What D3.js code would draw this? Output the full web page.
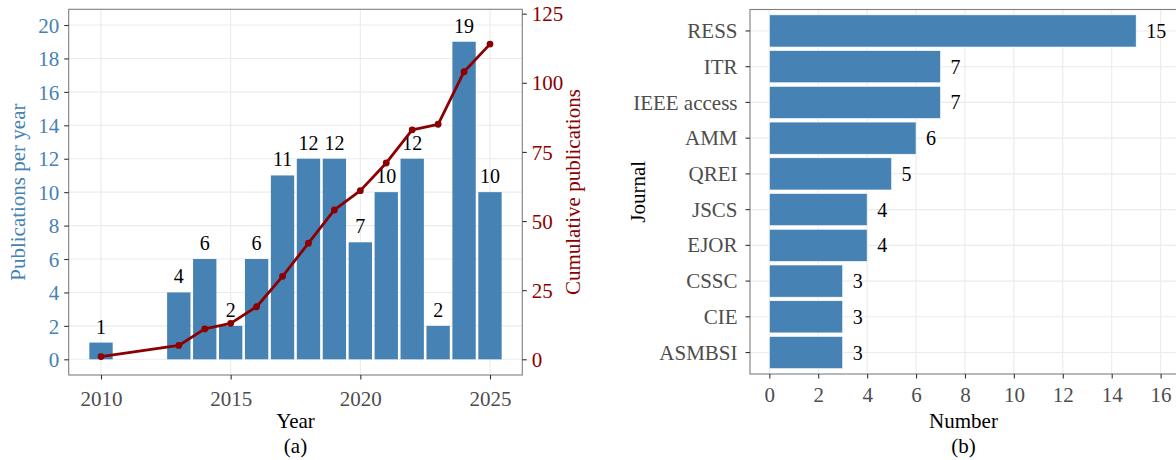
<!DOCTYPE html>
<html>
<head>
<meta charset="utf-8">
<script src="https://cdn.jsdelivr.net/npm/d3@7"></script>
<style>
  html, body { margin: 0; padding: 0; background: #fff; }
  svg { display: block; }
  text { font-family: "Liberation Serif", "Times New Roman", serif; }
</style>
</head>
<body>
<svg id="chart" width="1176" height="460"></svg>
<script>
// ---- Data (panel a) ----
const years = [2010, 2013, 2014, 2015, 2016, 2017, 2018, 2019, 2020, 2021, 2022, 2023, 2024, 2025];
const perYear = [1, 4, 6, 2, 6, 11, 12, 12, 7, 10, 12, 2, 19, 10];
const cumulative = [1, 5, 11, 13, 19, 30, 42, 54, 61, 71, 83, 85, 104, 114];
const yearTicks = [2010, 2015, 2020, 2025];
const leftTicks = [0, 2, 4, 6, 8, 10, 12, 14, 16, 18, 20];
const rightTicks = [0, 25, 50, 75, 100, 125];

// ---- Data (panel b) ----
const journals = ["RESS", "ITR", "IEEE access", "AMM", "QREI", "JSCS", "EJOR", "CSSC", "CIE", "ASMBSI"];
const journalCounts = [15, 7, 7, 6, 5, 4, 4, 3, 3, 3];
const numberTicks = [0, 2, 4, 6, 8, 10, 12, 14, 16];

const BLUE = "#4682B4", RED = "#8B0000", GRID = "#EBEBEB", BORDER = "#7F7F7F", TICKTXT = "#4D4D4D";
const FS = 21;

const svg = d3.select("#chart");
svg.append("rect").attr("width", 1176).attr("height", 460).attr("fill", "#fff");

// ================= Panel (a) =================
const A = { x0: 68.7, x1: 522.3, y0: 9.3, y1: 375 };
const xA = d3.scaleLinear().domain([2008.754, 2026.246]).range([A.x0, A.x1]);
const yL = d3.scaleLinear().domain([-0.939, 20.94]).range([A.y1, A.y0]);
const yR = d3.scaleLinear().domain([-5.68, 126.58]).range([A.y1, A.y0]);
const bw = (xA(2011) - xA(2010)) * 0.9;

const gA = svg.append("g");
// grid
gA.append("g").selectAll("line").data(leftTicks).join("line")
  .attr("x1", A.x0).attr("x2", A.x1).attr("y1", d => yL(d)).attr("y2", d => yL(d))
  .attr("stroke", GRID).attr("stroke-width", 1.1);
gA.append("g").selectAll("line").data(yearTicks).join("line")
  .attr("y1", A.y0).attr("y2", A.y1).attr("x1", d => xA(d)).attr("x2", d => xA(d))
  .attr("stroke", GRID).attr("stroke-width", 1.1);

// bars
gA.append("g").selectAll("rect").data(years).join("rect")
  .attr("x", (d) => xA(d) - bw / 2)
  .attr("width", bw)
  .attr("y", (d, i) => yL(perYear[i]))
  .attr("height", (d, i) => yL(0) - yL(perYear[i]))
  .attr("fill", BLUE);

// bar labels
gA.append("g").selectAll("text").data(years).join("text")
  .attr("x", d => xA(d))
  .attr("y", (d, i) => yL(perYear[i]) - 9)
  .attr("text-anchor", "middle")
  .attr("font-size", 20).attr("fill", "#000")
  .text((d, i) => perYear[i]);

// cumulative line
const line = d3.line().x((d, i) => xA(years[i])).y(d => yR(d));
gA.append("path").datum(cumulative).attr("d", line)
  .attr("fill", "none").attr("stroke", RED).attr("stroke-width", 2.8).attr("stroke-linejoin", "round");
gA.append("g").selectAll("circle").data(cumulative).join("circle")
  .attr("cx", (d, i) => xA(years[i])).attr("cy", d => yR(d)).attr("r", 3.4).attr("fill", RED);

// border
gA.append("rect").attr("x", A.x0).attr("y", A.y0).attr("width", A.x1 - A.x0).attr("height", A.y1 - A.y0)
  .attr("fill", "none").attr("stroke", BORDER).attr("stroke-width", 1.1);

// axes
function styleAxis(g, color) {
  g.select(".domain").remove();
  g.selectAll(".tick line").attr("stroke", "#333").attr("stroke-width", 1.1);
  g.selectAll(".tick text").attr("font-size", FS).attr("fill", color)
    .attr("font-family", '"Liberation Serif", "Times New Roman", serif');
}
const axL = gA.append("g").attr("transform", `translate(${A.x0},0)`)
  .call(d3.axisLeft(yL).tickValues(leftTicks).tickSize(4.5).tickPadding(5));
styleAxis(axL, BLUE);
axL.selectAll(".tick text").attr("dy", "0.34em");
const axR = gA.append("g").attr("transform", `translate(${A.x1},0)`)
  .call(d3.axisRight(yR).tickValues(rightTicks).tickSize(4.5).tickPadding(5));
styleAxis(axR, RED);
axR.selectAll(".tick text").attr("dy", "0.34em");
const axB = gA.append("g").attr("transform", `translate(0,${A.y1})`)
  .call(d3.axisBottom(xA).tickValues(yearTicks).tickFormat(d3.format("d")).tickSize(4.5).tickPadding(5));
styleAxis(axB, TICKTXT);
axB.selectAll(".tick text").attr("dy", null).attr("y", 31);

// titles
svg.append("text").attr("x", (A.x0 + A.x1) / 2).attr("y", 428).attr("text-anchor", "middle")
  .attr("font-size", FS).attr("fill", "#000").text("Year");
svg.append("text").attr("x", (A.x0 + A.x1) / 2).attr("y", 453).attr("text-anchor", "middle")
  .attr("font-size", FS).attr("fill", "#000").text("(a)");
svg.append("text").attr("transform", `translate(25,${(A.y0 + A.y1) / 2}) rotate(-90)`)
  .attr("text-anchor", "middle").attr("font-size", FS).attr("fill", BLUE).text("Publications per year");
svg.append("text").attr("transform", `translate(580,${(A.y0 + A.y1) / 2}) rotate(-90)`)
  .attr("text-anchor", "middle").attr("font-size", FS).attr("fill", RED).text("Cumulative publications");

// ================= Panel (b) =================
const B = { x0: 750, x1: 1177, y0: 9.5, y1: 374 };
const xB = d3.scaleLinear().domain([-0.79, 16.67]).range([B.x0, B.x1]);
const yB = d3.scaleBand().domain(journals).range([B.y0, B.y1]).paddingInner(0.1).paddingOuter(0.15);

const gB = svg.append("g");
gB.append("g").selectAll("line").data(numberTicks).join("line")
  .attr("y1", B.y0).attr("y2", B.y1).attr("x1", d => xB(d)).attr("x2", d => xB(d))
  .attr("stroke", GRID).attr("stroke-width", 1.1);
gB.append("g").selectAll("line").data(journals).join("line")
  .attr("x1", B.x0).attr("x2", B.x1)
  .attr("y1", d => yB(d) + yB.bandwidth() / 2).attr("y2", d => yB(d) + yB.bandwidth() / 2)
  .attr("stroke", GRID).attr("stroke-width", 1.1);

gB.append("g").selectAll("rect").data(journals).join("rect")
  .attr("x", xB(0))
  .attr("y", d => yB(d))
  .attr("width", (d, i) => xB(journalCounts[i]) - xB(0))
  .attr("height", yB.bandwidth())
  .attr("fill", BLUE).attr("stroke", "#ffffff").attr("stroke-width", 0.6);

gB.append("g").selectAll("text").data(journals).join("text")
  .attr("x", (d, i) => xB(journalCounts[i]) + 10)
  .attr("y", d => yB(d) + yB.bandwidth() / 2)
  .attr("dy", "0.35em")
  .attr("font-size", 20).attr("fill", "#000")
  .text((d, i) => journalCounts[i]);

gB.append("rect").attr("x", B.x0).attr("y", B.y0).attr("width", B.x1 - B.x0).attr("height", B.y1 - B.y0)
  .attr("fill", "none").attr("stroke", BORDER).attr("stroke-width", 1.1);

const axBL = gB.append("g").attr("transform", `translate(${B.x0},0)`)
  .call(d3.axisLeft(yB).tickSize(4.5).tickPadding(8));
styleAxis(axBL, TICKTXT);
axBL.selectAll(".tick text").attr("dy", "0.34em");
const axBB = gB.append("g").attr("transform", `translate(0,${B.y1})`)
  .call(d3.axisBottom(xB).tickValues(numberTicks).tickSize(4.5).tickPadding(5));
styleAxis(axBB, TICKTXT);
axBB.selectAll(".tick text").attr("dy", null).attr("y", 28);

svg.append("text").attr("x", (B.x0 + B.x1) / 2).attr("y", 428).attr("text-anchor", "middle")
  .attr("font-size", FS).attr("fill", "#000").text("Number");
svg.append("text").attr("x", (B.x0 + B.x1) / 2).attr("y", 453).attr("text-anchor", "middle")
  .attr("font-size", FS).attr("fill", "#000").text("(b)");
svg.append("text").attr("transform", `translate(645,${(B.y0 + B.y1) / 2}) rotate(-90)`)
  .attr("text-anchor", "middle").attr("font-size", FS).attr("fill", "#000").text("Journal");
</script>
</body>
</html>
